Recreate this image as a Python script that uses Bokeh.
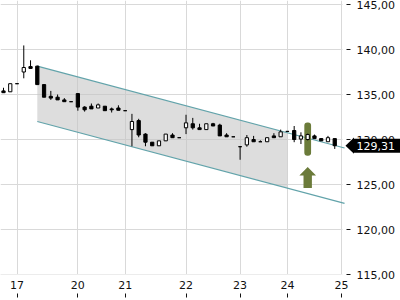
from bokeh.plotting import figure
from bokeh.models import (ColumnDataSource, FixedTicker, CustomJSTickFormatter, Range1d,
                          Label, PolyAnnotation, BoxAnnotation)
from bokeh.embed import file_html
from bokeh.resources import INLINE

# ---- data -------------------------------------------------------------
opens  = [135.40, 135.30, 136.20, 137.50, 138.10, 138.15, 136.10, 134.80, 134.70, 134.40,
          134.20, 135.10, 133.60, 133.70, 133.50, 133.70, 133.40, 133.50, 133.20, 131.10,
          132.10, 130.60, 129.70, 129.30, 129.85, 130.50, 130.20, 131.30, 131.75, 131.30,
          131.10, 131.75, 131.60, 130.50, 130.30, 129.20, 129.40, 130.00, 129.75, 129.75,
          130.40, 130.30, 130.90, 131.00, 130.05, 130.00, 130.40, 130.10, 129.75, 130.10]
closes = [135.20, 136.20, 136.20, 138.00, 137.90, 136.10, 134.70, 134.60, 134.40, 134.20,
          134.20, 133.60, 133.30, 133.40, 133.85, 133.20, 133.30, 133.25, 133.20, 132.00,
          130.50, 129.70, 129.30, 129.85, 130.60, 130.20, 130.20, 131.85, 131.30, 131.10,
          131.75, 131.50, 130.40, 130.30, 130.30, 129.20, 130.20, 129.75, 129.75, 130.20,
          130.20, 130.85, 130.90, 130.00, 130.40, 130.55, 130.10, 129.85, 130.20, 129.31]
highs  = [135.75, 136.20, 136.20, 140.45, 138.80, 138.20, 136.10, 135.40, 135.00, 134.60,
          134.20, 135.10, 133.70, 134.00, 134.00, 133.70, 133.55, 133.80, 133.20, 132.85,
          132.30, 130.70, 129.70, 129.85, 130.60, 130.70, 130.20, 132.75, 132.40, 131.75,
          131.75, 131.85, 131.75, 130.70, 130.30, 129.20, 130.50, 130.40, 129.90, 130.20,
          130.70, 131.10, 130.90, 131.50, 130.80, 130.65, 130.55, 130.10, 130.40, 130.10]
lows   = [135.20, 135.30, 136.20, 136.80, 137.90, 136.10, 134.70, 134.40, 134.40, 134.20,
          134.20, 133.20, 133.10, 133.40, 133.50, 133.20, 133.00, 133.25, 133.20, 129.25,
          130.25, 129.25, 129.30, 129.30, 129.85, 130.20, 130.20, 130.60, 131.10, 131.10,
          131.10, 131.50, 130.40, 130.30, 130.30, 127.75, 129.20, 129.75, 129.75, 129.75,
          130.20, 130.30, 130.90, 129.70, 129.50, 129.90, 130.10, 129.85, 129.75, 128.95]

day_tick_idx    = [2, 11, 18, 27, 35, 42, 50]
day_tick_labels = ["17", "20", "21", "22", "23", "24", "25"]
price_ticks     = [115, 120, 125, 130, 135, 140, 145]

# trend channel
channel_start_idx  = 5
channel_fill_end   = 42
channel_line_end   = 50.45
channel_upper_at_start = 138.15
channel_lower_at_start = 132.00
channel_slope = -0.2          # price per candle

# buy signal
signal_idx       = 45
signal_bar_low   = 128.2
signal_bar_high  = 131.9
arrow_tip        = 126.95
arrow_head_base  = 126.0
arrow_bottom     = 124.6

last_price = closes[-1]

# ---- figure -----------------------------------------------------------
FONT = "DejaVu Sans"
n = len(opens)
idx = list(range(n))
PX = 6.76                      # pixels per candle
X0 = -3 / PX                   # left edge of the plot, in candle units
AXIS_X = X0 + 342 / PX         # where the price axis sits
X1 = X0 + 400 / PX
PY = 9.0                       # pixels per price unit
Y_TOP = 145 + 4 / PY
Y_AXIS = 115.0                 # where the day axis sits
Y_BOT = Y_TOP - 300 / PY

p = figure(width=400, height=300, output_backend="svg", toolbar_location=None,
           x_range=Range1d(X0, X1), y_range=Range1d(Y_BOT, Y_TOP),
           y_axis_location="right", x_axis_location="below",
           min_border_left=0, min_border_top=0, min_border_right=0, min_border_bottom=0)
p.outline_line_color = None
p.background_fill_color = "white"
p.border_fill_color = "white"

for g in (p.xgrid, p.ygrid):
    g.grid_line_color = "#d9d9d9"
    g.grid_line_width = 1

# white margins right of the price axis and below the day axis
p.add_layout(BoxAnnotation(left=AXIS_X, fill_color="white", fill_alpha=1,
                           line_color=None, level="underlay"))
p.add_layout(BoxAnnotation(top=Y_AXIS, fill_color="white", fill_alpha=1,
                           line_color=None, level="underlay"))

xa = p.xaxis[0]
xa.fixed_location = Y_AXIS
xa.ticker = FixedTicker(ticks=day_tick_idx)
xa.major_label_overrides = {i: s for i, s in zip(day_tick_idx, day_tick_labels)}
xa.axis_line_color = None
xa.minor_tick_line_color = None
xa.major_tick_in = -19
xa.major_tick_out = 23
xa.major_label_standoff = -17
xa.major_tick_line_color = "#111111"
xa.major_label_text_font = FONT
xa.major_label_text_font_size = "11px"
xa.major_label_text_color = "#111111"

ya = p.yaxis[0]
ya.fixed_location = AXIS_X
ya.ticker = FixedTicker(ticks=price_ticks)
ya.formatter = CustomJSTickFormatter(code="return tick.toFixed(2).replace('.', ',');")
ya.axis_line_color = None
ya.minor_tick_line_color = None
ya.major_tick_in = -4
ya.major_tick_out = 8
ya.major_label_standoff = 6
ya.major_tick_line_color = "#111111"
ya.major_label_text_font = FONT
ya.major_label_text_font_size = "11px"
ya.major_label_text_color = "#111111"

def chan(base, i):
    return base + channel_slope * (i - channel_start_idx)

fill_x = [channel_start_idx, channel_fill_end, channel_fill_end, channel_start_idx]
fill_y = [chan(channel_upper_at_start, channel_start_idx), chan(channel_upper_at_start, channel_fill_end),
          chan(channel_lower_at_start, channel_fill_end), chan(channel_lower_at_start, channel_start_idx)]
p.patch(fill_x, fill_y, fill_color="#c4c4c4", fill_alpha=0.58, line_color=None)
for base in (channel_upper_at_start, channel_lower_at_start):
    p.line([channel_start_idx, channel_line_end],
           [chan(base, channel_start_idx), chan(base, channel_line_end)],
           line_color="#62a3aa", line_width=1.2)

p.vbar(x=[signal_idx], width=1.0, top=[signal_bar_high], bottom=[signal_bar_low],
       fill_color="#6b7b3a", line_color=None, border_radius=3)

src = ColumnDataSource(dict(
    x=idx, high=highs, low=lows,
    top=[max(o, c) for o, c in zip(opens, closes)],
    bottom=[min(o, c) for o, c in zip(opens, closes)],
    fill=["white" if c > o else "black" for o, c in zip(opens, closes)],
))
p.segment(x0="x", y0="low", x1="x", y1="high", source=src, line_color="black", line_width=1)
p.vbar(x="x", width=0.48, top="top", bottom="bottom", fill_color="fill",
       line_color="black", line_width=1, source=src)

hw, sw = 1.23, 0.62
ax = [signal_idx - hw, signal_idx, signal_idx + hw, signal_idx + sw, signal_idx + sw,
      signal_idx - sw, signal_idx - sw]
ay = [arrow_head_base, arrow_tip, arrow_head_base, arrow_head_base, arrow_bottom,
      arrow_bottom, arrow_head_base]
p.patch(ax, ay, fill_color="#6b7b3a", line_color=None)

# last price marker (pointer + box)
half = 0.9
p.add_layout(PolyAnnotation(xs=[345, 353.5, 353.5], ys=[last_price, last_price + half, last_price - half],
                            xs_units="screen", ys_units="data",
                            fill_color="black", fill_alpha=1, line_color=None))
p.add_layout(Label(x=353, y=last_price, x_units="screen", y_units="data",
                   text=f"{last_price:.2f}".replace(".", ","), text_color="white",
                   text_font=FONT, text_font_size="11px", text_baseline="middle",
                   text_align="left", background_fill_color="black",
                   padding=dict(left=3, right=14, top=3, bottom=3)))

open("out.html", "w").write(file_html(p, INLINE))
